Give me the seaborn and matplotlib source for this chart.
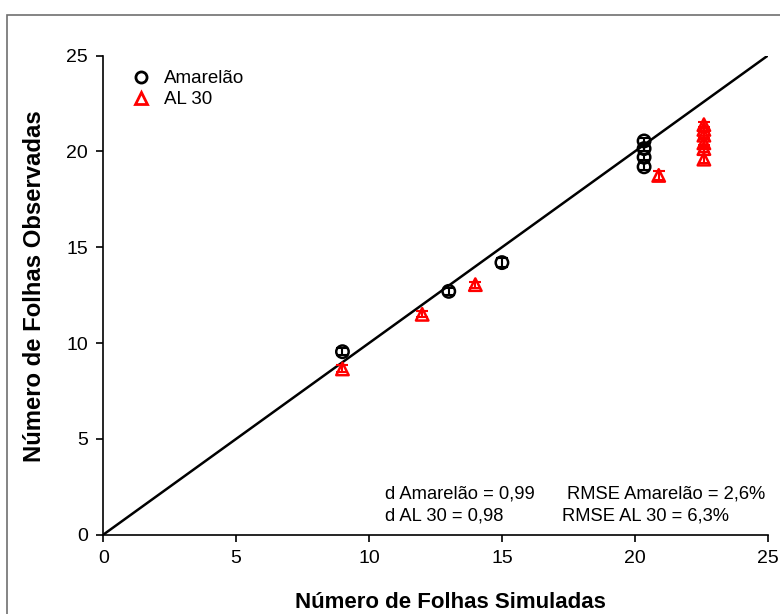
import matplotlib
matplotlib.use("Agg")
import matplotlib.pyplot as plt
import seaborn as sns
import pandas as pd
from matplotlib.patches import Rectangle
from matplotlib.lines import Line2D

# Data
amarelao_sim = [9.0, 13.0, 15.0, 20.35, 20.35, 20.35, 20.35]
amarelao_obs = [9.55, 12.7, 14.2, 20.55, 20.15, 19.7, 19.2]
amarelao_err = [0.18, 0.18, 0.22, 0.15, 0.15, 0.15, 0.18]

al30_sim = [9.0, 12.0, 14.0, 20.9, 22.6, 22.6, 22.6, 22.6, 22.6, 22.6]
al30_obs = [8.65, 11.5, 13.05, 18.75, 21.4, 21.15, 20.85, 20.45, 20.15, 19.6]
al30_err = [0.18, 0.15, 0.15, 0.25, 0.15, 0.15, 0.15, 0.2, 0.2, 0.2]

series_names = ["Amarelão", "AL 30"]
stats_d = ["d Amarelão = 0,99", "d AL 30 = 0,98"]
stats_rmse = ["RMSE Amarelão = 2,6%", "RMSE AL 30 = 6,3%"]

sns.set_theme(style="white")
plt.rcParams['font.family'] = ['Liberation Sans', 'DejaVu Sans']
plt.rcParams['text.color'] = 'black'
plt.rcParams['axes.labelcolor'] = 'black'
plt.rcParams['xtick.color'] = 'black'
plt.rcParams['ytick.color'] = 'black'

df = pd.concat([
    pd.DataFrame({"sim": amarelao_sim, "obs": amarelao_obs, "err": amarelao_err, "cult": series_names[0]}),
    pd.DataFrame({"sim": al30_sim, "obs": al30_obs, "err": al30_err, "cult": series_names[1]}),
], ignore_index=True)

fig = plt.figure(figsize=(7.8, 6.14), dpi=100)
ax = fig.add_axes([0.1324, 0.1292, 0.8518, 0.7801])

# frame around figure
fig.patches.append(Rectangle((7/780, -0.1), 1.2, 1 - 15/614 + 0.1, transform=fig.transFigure,
                             fill=False, edgecolor="#707070", linewidth=1.2))

# 1:1 line
ax.plot([0, 25], [0, 25], color="black", linewidth=1.8, zorder=1)

colors = {"Amarelão": "black", "AL 30": "red"}
markers = {"Amarelão": "o", "AL 30": "^"}

for name in series_names:
    sub = df[df.cult == name]
    ax.errorbar(sub.sim, sub.obs, yerr=sub.err, fmt="none", ecolor=colors[name],
                elinewidth=1.5, capsize=4, capthick=1.5, zorder=2)

sns.scatterplot(data=df, x="sim", y="obs", hue="cult", style="cult",
                palette=colors, markers=markers, s=80, linewidth=1.8,
                ax=ax, legend=False, zorder=3)
coll = ax.collections[-1]
coll.set_facecolor("none")
coll.set_edgecolor([colors[c] for c in df.cult])

ax.set_xlim(0, 25)
ax.set_ylim(0, 25)
ax.set_xticks([0, 5, 10, 15, 20, 25])
ax.set_yticks([0, 5, 10, 15, 20, 25])
ax.tick_params(axis="both", which="major", direction="out", length=5, width=1.2,
               labelsize=14, color="black", labelcolor="black", bottom=True, left=True, pad=6)
for s in ["top", "right"]:
    ax.spines[s].set_visible(False)
for s in ["left", "bottom"]:
    ax.spines[s].set_color("black")
    ax.spines[s].set_linewidth(1.2)

ax.set_xlabel("Número de Folhas Simuladas", fontsize=16, fontweight="bold", color="black", va="center")
ax.set_ylabel("Número de Folhas Observadas", fontsize=17.2, fontweight="bold", color="black", va="center")
ax.xaxis.set_label_coords(0.523, -0.1426)
ax.yaxis.set_label_coords(-0.104, 0.519)

handles = [Line2D([], [], marker="o", linestyle="none", markerfacecolor="none",
                  markeredgecolor="black", markeredgewidth=2, markersize=8),
           Line2D([], [], marker="^", linestyle="none", markerfacecolor="none",
                  markeredgecolor="red", markeredgewidth=2, markersize=8)]
leg = ax.legend(handles, series_names, loc="upper left", bbox_to_anchor=(0.015, 1.005),
                frameon=False, fontsize=13.5, handletextpad=0.6, labelspacing=0.2,
                handlelength=1.2)

ax.text(10.6, 2.13, stats_d[0], fontsize=13.2, va="center", ha="left", color="black")
ax.text(10.6, 0.98, stats_d[1], fontsize=13.2, va="center", ha="left", color="black")
ax.text(17.45, 2.13, stats_rmse[0], fontsize=13.2, va="center", ha="left", color="black")
ax.text(17.26, 0.98, stats_rmse[1], fontsize=13.2, va="center", ha="left", color="black")

fig.savefig("out.png", dpi=100)
